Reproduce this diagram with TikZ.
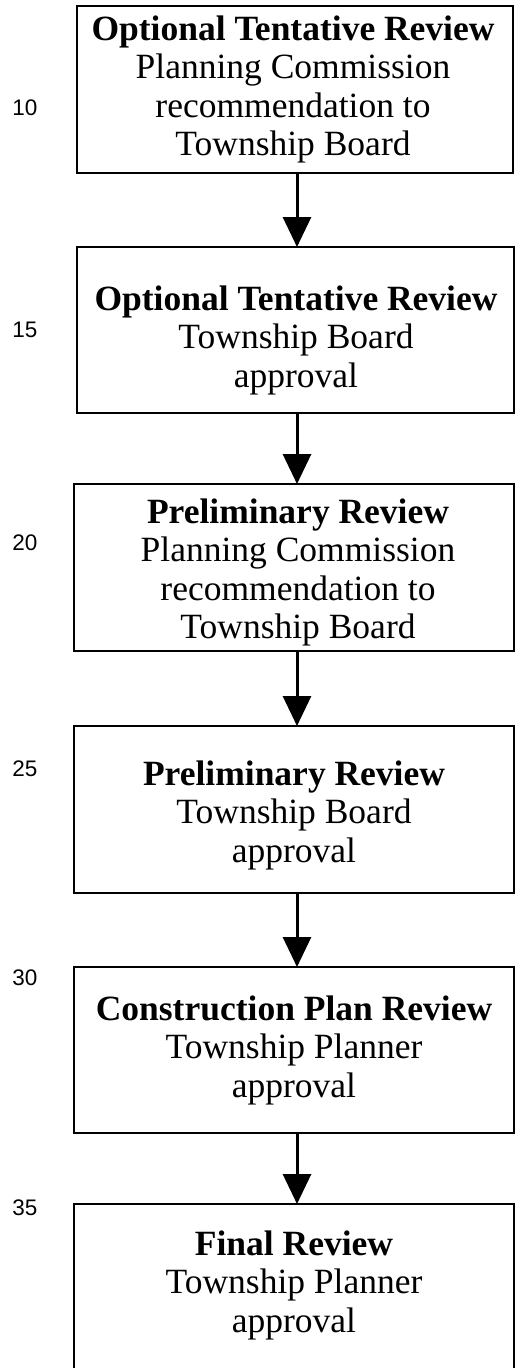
\documentclass[tikz,border=0pt]{standalone}
\usepackage{fontspec}
\setmainfont{Liberation Serif}
\newfontfamily\labelfont{Liberation Sans}
\usetikzlibrary{arrows.meta}
\begin{document}
\begin{tikzpicture}[x=1pt,y=-1pt,
  box/.style={draw=black, line width=2.4pt, inner sep=0pt, outer sep=0pt, anchor=north west, minimum width=437pt},
  boxtext/.style={anchor=base, align=center, inner sep=0pt, font=\fontsize{35.5}{38.5}\selectfont},
  num/.style={anchor=base, inner sep=0pt, font=\labelfont\fontsize{22.5}{26}\selectfont},
  flow/.style={line width=3pt, -{Triangle[length=30pt,width=28pt]}}]
\useasboundingbox (0,0) rectangle (516,1368);
\coordinate (ax) at (297,0);
% boxes
\node[box, minimum width=436pt, minimum height=167pt] (b1) at (77,6) {};
\node[box, minimum height=166pt] (b2) at (77,247) {};
\node[box, minimum width=440pt, minimum height=167pt] (b3) at (74,484) {};
\node[box, minimum width=440pt, minimum height=167pt] (b4) at (74,726) {};
\node[box, minimum width=440pt, minimum height=166pt] (b5) at (74,967) {};
\node[box, minimum width=440pt, minimum height=200pt] (b6) at (74,1204) {};
% texts (anchor = baseline of the last line)
\node[boxtext] (t1) at (293,155.5) {\textbf{Optional Tentative Review}\\Planning Commission\\recommendation to\\Township Board};
\node[boxtext] (t2) at (296,387) {\textbf{Optional Tentative Review}\\Township Board\\approval};
\node[boxtext] (t3) at (298,638.5) {\textbf{Preliminary Review}\\Planning Commission\\recommendation to\\Township Board};
\node[boxtext] (t4) at (294,862) {\textbf{Preliminary Review}\\Township Board\\approval};
\node[boxtext] (t5) at (294,1097) {\textbf{Construction Plan Review}\\Township Planner\\approval};
\node[boxtext] (t6) at (294,1332) {\textbf{Final Review}\\Township Planner\\approval};
% step numbers
\node[num] (n10) at (25,115) {10};
\node[num] (n15) at (25,337) {15};
\node[num] (n20) at (25,550) {20};
\node[num] (n25) at (25,776) {25};
\node[num] (n30) at (25,985) {30};
\node[num] (n35) at (25,1215) {35};
% arrows
\draw[flow] (b1.south -| ax) -- (b2.north -| ax);
\draw[flow] (b2.south -| ax) -- (b3.north -| ax);
\draw[flow] (b3.south -| ax) -- (b4.north -| ax);
\draw[flow] (b4.south -| ax) -- (b5.north -| ax);
\draw[flow] (b5.south -| ax) -- (b6.north -| ax);
\end{tikzpicture}
\end{document}
